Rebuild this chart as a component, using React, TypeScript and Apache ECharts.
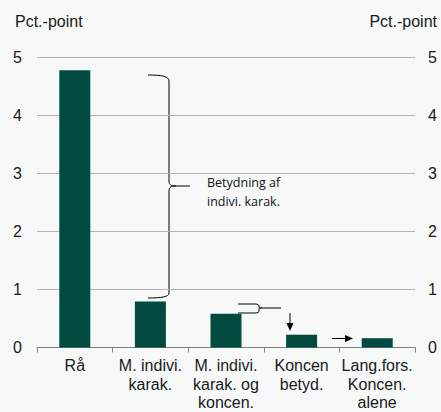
import React, { useEffect, useRef } from "react";
import * as echarts from "echarts";

const categories = [
  "Rå",
  "M. indivi.\nkarak.",
  "M. indivi.\nkarak. og\nkoncen.",
  "Koncen\nbetyd.",
  "Lang.fors.\nKoncen.\nalene",
];
const values = [4.77, 0.79, 0.58, 0.22, 0.16];
const yTicks = [0, 1, 2, 3, 4, 5];
const axisName = "Pct.-point";
const noteText = "Betydning af\nindivi. karak.";

const BIG_BRACE =
  "M148,75 C161,75 169,76 169,81 L169,181 C169,185 171,186 176,186 L190,186 M176,186 C171,186 169,187 169,191 L169,293 C169,297 161,298 148,298";
const SMALL_BRACE =
  "M238,304 L255,304 C258,304 259,305 259,306 L259,307 C259,308 260,308 262,308 L281,308 M262,308 C260,308 259,308 259,309 L259,311 C259,312 258,313 255,313 L238,313";

let registered = false;
function registerShapes() {
  if (registered) return;
  echarts.graphic.registerShape("bigBrace", echarts.graphic.extendPath(BIG_BRACE, {}) as any);
  echarts.graphic.registerShape("smallBrace", echarts.graphic.extendPath(SMALL_BRACE, {}) as any);
  registered = true;
}

export default function App() {
  const ref = useRef<HTMLDivElement>(null);
  useEffect(() => {
    if (!ref.current) return;
    registerShapes();
    const chart = echarts.init(ref.current, null, { renderer: "svg" });
    const font = "'Liberation Sans', Arial, sans-serif";
    const yAxisCommon = {
      type: "value" as const,
      min: yTicks[0],
      max: yTicks[yTicks.length - 1],
      interval: 1,
      axisLine: { show: false },
      axisTick: { show: false },
      splitLine: { show: true, lineStyle: { color: "#b4b4b4", width: 1 } },
    };
    const lineStyle = { stroke: "#000", fill: null, lineWidth: 1 };
    chart.setOption({
      animation: false,
      backgroundColor: "#f7f9f9",
      textStyle: { fontFamily: font },
      grid: { left: 37, right: 26, top: 57, bottom: 64, containLabel: false },
      xAxis: {
        type: "category",
        data: categories,
        axisLine: { show: true, lineStyle: { color: "#808080", width: 1 } },
        axisTick: { show: true, length: 5, lineStyle: { color: "#808080" } },
        axisLabel: {
          interval: 0,
          margin: 9,
          fontSize: 16,
          lineHeight: 18.5,
          color: "#1a1a1a",
          fontFamily: font,
        },
      },
      yAxis: [
        {
          ...yAxisCommon,
          position: "left",
          axisLabel: { margin: 15, fontSize: 16, color: "#1a1a1a", fontFamily: font },
        },
        {
          ...yAxisCommon,
          position: "right",
          splitLine: { show: false },
          axisLabel: { margin: 13, fontSize: 16, color: "#1a1a1a", fontFamily: font },
        },
      ],
      series: [
        {
          type: "bar",
          data: values,
          barWidth: 31,
          itemStyle: { color: "#004a40" },
          yAxisIndex: 0,
        },
      ],
      graphic: [
        {
          type: "text",
          left: 15,
          top: 13,
          style: { text: axisName, fontSize: 16, fill: "#1a1a1a", fontFamily: font },
        },
        {
          type: "text",
          right: 4,
          top: 13,
          style: { text: axisName, fontSize: 16, fill: "#1a1a1a", fontFamily: font },
        },
        {
          type: "text",
          left: 207,
          top: 173,
          style: {
            text: noteText,
            fontSize: 12.5,
            lineHeight: 19,
            fill: "#111",
            fontFamily: "'Open Sans', sans-serif",
          },
        },
        { type: "bigBrace", x: 0, y: 0, style: lineStyle, silent: true },
        { type: "smallBrace", x: 0, y: 0, style: lineStyle, silent: true },
        { type: "line", shape: { x1: 290, y1: 313, x2: 290, y2: 324 }, style: { stroke: "#000", lineWidth: 1 } },
        { type: "polygon", shape: { points: [[286.5, 323], [293.5, 323], [290, 331]] }, style: { fill: "#000" } },
        { type: "line", shape: { x1: 332, y1: 338.5, x2: 346, y2: 338.5 }, style: { stroke: "#000", lineWidth: 1 } },
        { type: "polygon", shape: { points: [[345, 335], [345, 342], [353, 338.5]] }, style: { fill: "#000" } },
      ],
    });
    return () => chart.dispose();
  }, []);
  return (
    <div
      ref={ref}
      style={{ position: "fixed", left: 0, top: 0, width: 441, height: 412 }}
    />
  );
}
